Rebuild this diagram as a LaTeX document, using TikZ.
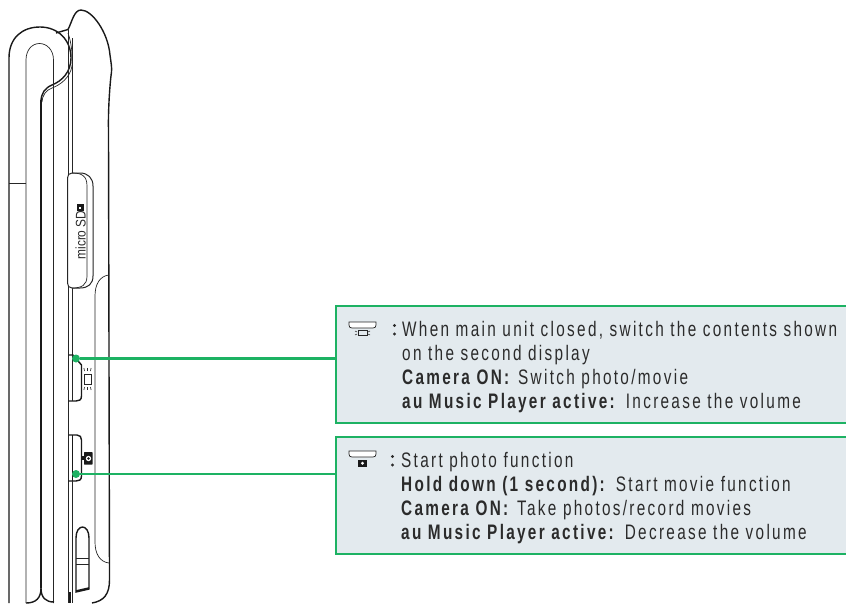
\documentclass[tikz,border=0pt]{standalone}
\usepackage{fontspec}
\setmainfont{Liberation Sans}[FakeStretch=0.73,LetterSpace=11]
\newfontfamily\slotfont{Liberation Sans}[FakeStretch=0.85]
\usepackage{xcolor}
\definecolor{keygreen}{HTML}{1DB263}
\definecolor{boxgrey}{HTML}{E3EAEE}
\definecolor{inkgrey}{HTML}{2B2B2B}
\tikzset{
	thin line/.style={line width=.7pt,black!85},
	body line/.style={line width=1.4pt,black!90},
	heavy line/.style={line width=2.8pt,black!90},
	keybox/.style={draw=keygreen,line width=2.4pt,fill=boxgrey,minimum width=514pt,minimum height=117pt,anchor=north west,inner sep=0pt},
	keytext/.style={anchor=north west,align=left,inner sep=0pt,text=inkgrey,font=\fontsize{21}{24}\selectfont},
	keydot/.style={circle,fill=keygreen,minimum size=8pt,inner sep=0pt},
	keylink/.style={keygreen,line width=2.4pt},
}

\begin{document}
\begin{tikzpicture}[x=1pt,y=-1pt]
	\useasboundingbox (0,0) rectangle (846,603);
	% flip side, hinge
	\draw[body line] (9,603) -- (9,58) .. controls (9,38) and (22,27) .. (40,27) .. controls (58,27) and (71,40) .. (71,58) .. controls (71,72) and (62,81) .. (52,85) .. controls (45,88) and (41,93) .. (41,102);
	\draw[thin line] (26,603) -- (26,60) .. controls (26,50) and (32,43.5) .. (39.5,43.5) .. controls (47,43.5) and (53.5,50) .. (53.5,60) -- (53.5,603);
	\draw[thin line] (9,183.5) -- (26,183.5);
	\draw[thin line] (68,33) .. controls (72,44) and (73,60) .. (72,66) .. controls (70,78) and (60,85) .. (52,88) .. controls (46,90) and (42,96) .. (42,102);
	\draw[heavy line] (41,100) -- (41,588);
	\draw[body line] (26,603) .. controls (36,603) and (41,598) .. (41,588) .. controls (41,598) and (46,602) .. (54,602);
	% main body outline
	\draw[body line] (56,33) -- (68,29.5) .. controls (72,22) and (74,10) .. (81,10) .. controls (92,10) and (108,32) .. (110,55) .. controls (111,62) and (112,68) .. (111.5,72) .. controls (110,82) and (108,110) .. (108.5,130) -- (109.5,580) .. controls (109.5,594) and (104,601) .. (92,603);
	\draw[thin line] (68.5,30) -- (68.5,603);
	\draw[thin line] (72.5,38) -- (72.5,355);
	\draw[thin line] (109,275) .. controls (100,276) and (95,284) .. (95,296) -- (95,542) .. controls (95,554) and (100,562) .. (109,563);
	\draw[heavy line] (70,603) -- (70,592);
	% card slot
	\draw[line width=1pt,draw=black!85,fill=white] (72,173) -- (80,173) .. controls (88,173) and (93,178) .. (93,186) -- (93,276) .. controls (93,284) and (88,288) .. (80,288) -- (72,288) .. controls (69,288) and (67.5,286) .. (67.5,283) -- (67.5,178) .. controls (67.5,175) and (69,173) .. (72,173) -- cycle;
	\draw[thin line] (72,173) .. controls (82,173) and (87,176) .. (87,186) -- (87,276) .. controls (87,285) and (82,288) .. (72,288);
	\node[rotate=90,inner sep=0pt,font=\slotfont\fontsize{14}{14}\selectfont,text=inkgrey] (sdlabel) at (80.5,235) {micro SD};
	\fill[black!90] (76.5,204) rectangle (84,210.5);
	\fill[white] (78.5,206.5) rectangle (80.5,208.5);
	% side keys
	\draw[body line] (68.5,355) -- (73,355) -- (81.5,365) -- (81.5,396) .. controls (81.5,400) and (79,401) .. (76,401) -- (68.5,401);
	\draw[thin line] (72.5,355) -- (72.5,401);
	\draw[body line] (68.5,435) -- (77,435) .. controls (80,435) and (81.5,437) .. (81.5,440) -- (81.5,476) .. controls (81.5,480) and (79,481) .. (76,481) -- (68.5,481);
	\draw[line width=1.6pt,black!90] (72.5,435) -- (72.5,481);
	\draw[thin line] (72.5,481) -- (72.5,603);
	% light mark
	\draw[line width=.8pt,black!85] (84,374) rectangle (91,384);
	\foreach \offs in {-3,0,3} {
		\draw[line width=.6pt,black!85] (87.5+\offs,371) -- (87.5+1.2*\offs,368);
		\draw[line width=.6pt,black!85] (87.5+\offs,387) -- (87.5+1.2*\offs,390);
	}
	% camera mark
	\fill[black!90,rounded corners=.5pt] (84,452) rectangle (92.5,464.5);
	\fill[black!90] (82,456) rectangle (84.5,460);
	\fill[white] (88.5,458.5) circle (2.7pt);
	\fill[black!90] (88.5,458.5) circle (1.3pt);
	% slide latch
	\draw[body line] (76,592) -- (76,538) .. controls (76,531) and (79,527) .. (82.5,527) .. controls (86,527) and (89,531) .. (89,538) -- (89,589) -- cycle;
	\draw[thin line] (76,558) -- (89,558);
	\draw[thin line] (76,564) -- (89,564);
	\draw[line width=1.6pt,black!90] (76,591) -- (89,588);
	% info boxes
	\node[keybox] (boxlight) at (335,305) {};
	\node[keybox] (boxcamera) at (335,436) {};
	\node[keydot] (dotlight) at (76,358.5) {};
	\node[keydot] (dotcamera) at (76,474) {};
	\draw[keylink] (dotlight) -- (dotlight -| boxlight.west);
	\draw[keylink] (dotcamera) -- (dotcamera -| boxcamera.west);
	\node[keytext] (textlight) at (402,321.5) {When main unit closed, switch the contents shown\\on the second display\\\textbf{Camera ON:} Switch photo/movie\\\textbf{au Music Player active:} Increase the volume};
	\node[keytext] (textcamera) at (401,452.5) {Start photo function\\\textbf{Hold down (1 second):} Start movie function\\\textbf{Camera ON:} Take photos/record movies\\\textbf{au Music Player active:} Decrease the volume};
	\fill[inkgrey] (394.5,325.5) circle (1.6pt) (394.5,334) circle (1.6pt);
	\fill[inkgrey] (392.5,456.5) circle (1.6pt) (392.5,465) circle (1.6pt);
	% small key icons
	\draw[thin line,fill=white] (349,322) -- (376,322) -- (376,325) .. controls (376,327) and (375,328) .. (373,328) -- (352,328) .. controls (350,328) and (349,327) .. (349,325) -- cycle;
	\draw[line width=.6pt,black!85] (358,330.5) rectangle (367,335.5);
	\draw[line width=.5pt,black!85] (355,331) -- (357,332) (355,335) -- (357,334) (368,332) -- (370,331) (368,334) -- (370,335);
	\draw[thin line,fill=white] (349,451) -- (376,451) -- (376,454) .. controls (376,456) and (375,457) .. (373,457) -- (352,457) .. controls (350,457) and (349,456) .. (349,454) -- cycle;
	\fill[black!90] (358,460) rectangle (367,466.5);
	\fill[white] (362.5,463.2) circle (1.7pt);
\end{tikzpicture}
\end{document}
